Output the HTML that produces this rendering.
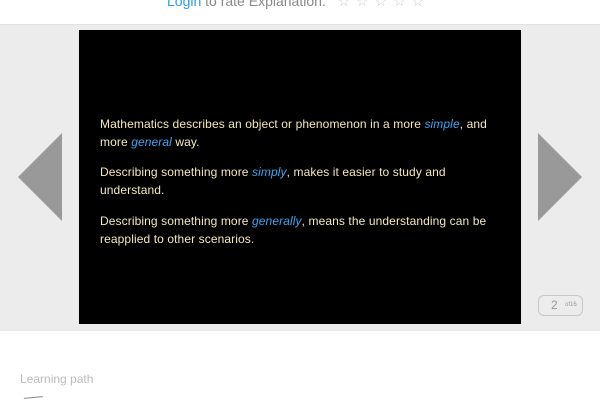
<!DOCTYPE html>
<html><head><style>
body{margin:0;width:600px;height:400px;background:#fff;font-family:"Liberation Sans",sans-serif;position:relative;overflow:hidden}
.top{position:absolute;left:167px;top:-7px;font-size:14px;color:#888;white-space:nowrap}
.top a{color:#2a9ee8}
.band{position:absolute;left:0;top:24px;width:600px;height:306px;background:#ececec;border-top:1px solid #e2e2e2}
.box{position:absolute;left:79px;top:30px;width:442px;height:294px;background:#000}
.t{position:absolute;left:100px;width:400px;font-size:12px;letter-spacing:0.1px;line-height:18px;color:#f3e8b8}
.t i{color:#3aa5f2}
.arr{position:absolute;width:0;height:0;border-top:44px solid transparent;border-bottom:44px solid transparent}
.pg{position:absolute;left:538px;top:295px;width:43px;height:19px;border:1px solid #c8c8c8;border-radius:6px;font-size:12px;color:#999}
</style></head><body>
<div class="top"><a>Login</a> to rate Explanation. &nbsp; <span style="color:#ccc;letter-spacing:6px">☆☆☆☆☆</span></div>
<div class="band"></div>
<div class="box"></div>
<div class="arr" style="left:18px;top:133px;border-right:44px solid #999"></div>
<div class="arr" style="left:538px;top:133px;border-left:44px solid #999"></div>
<div class="t" style="top:115px">Mathematics describes an object or phenomenon in a more <i>simple</i>, and more <i>general</i> way.</div>
<div class="t" style="top:163px">Describing something more <i>simply</i>, makes it easier to study and understand.</div>
<div class="t" style="top:212px">Describing something more <i>generally</i>, means the understanding can be reapplied to other scenarios.</div>
<div class="pg"><span style="position:absolute;left:12px;top:2px">2</span><span style="position:absolute;left:26px;top:6px;font-size:6px">of16</span></div>
<div style="position:absolute;left:20px;top:372px;font-size:12px;color:#bbb">Learning path</div>
<div style="position:absolute;left:24px;top:397px;width:19px;height:4px;border-top:1px solid #888;transform:rotate(-5deg)"></div>
</body></html>
